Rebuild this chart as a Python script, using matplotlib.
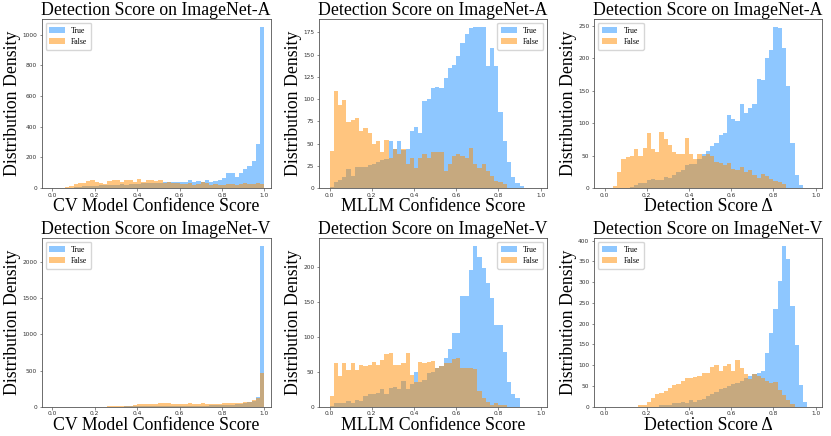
import numpy as np
import matplotlib
matplotlib.use("Agg")
import matplotlib.pyplot as plt

# ---------------- data (50 bins of width 0.02 on [0, 1]) ----------------
bin_edges = np.linspace(0.0, 1.0, 51)

titles = ["Detection Score on ImageNet-A", "Detection Score on ImageNet-A", "Detection Score on ImageNet-A",
          "Detection Score on ImageNet-V", "Detection Score on ImageNet-V", "Detection Score on ImageNet-V"]
xlabels = ["CV Model Confidence Score", "MLLM Confidence Score", "Detection Score \u0394",
           "CV Model Confidence Score", "MLLM Confidence Score", "Detection Score \u0394"]
legend_locs = ["upper left", "upper right", "upper left", "upper left", "upper right", "upper left"]
series_names = ["True", "False"]

# ImageNet-A, CV model confidence
a_cv_true = [0, 0, 1, 2, 3, 5, 8, 10, 12, 15,
             15, 18, 20, 20, 22, 22, 25, 22, 25, 28,
             28, 30, 30, 32, 35, 35, 38, 38, 38, 40,
             38, 38, 52, 38, 45, 40, 55, 42, 48, 55,
             62, 98, 98, 75, 100, 125, 145, 178, 290, 1050]
a_cv_false = [0, 0, 0, 8, 12, 25, 30, 30, 45, 50,
              40, 30, 28, 45, 52, 50, 38, 55, 50, 42,
              58, 40, 52, 50, 45, 52, 35, 40, 30, 35,
              28, 25, 30, 20, 28, 38, 32, 20, 25, 22,
              20, 25, 28, 22, 25, 30, 25, 28, 30, 28]

# ImageNet-A, MLLM confidence
a_mllm_true = [1, 7, 9, 12, 21, 14, 24, 24, 24, 26,
               27, 29, 32, 33, 53, 44, 53, 43, 44, 64,
               69, 62, 98, 100, 112, 114, 113, 124, 135, 138,
               149, 163, 173, 180, 181, 181, 181, 137, 157, 137,
               85, 53, 29, 12, 6, 2, 0, 0, 0, 0]
a_mllm_false = [42, 109, 93, 99, 74, 76, 79, 64, 68, 62,
                49, 53, 40, 54, 34, 44, 38, 44, 27, 34,
                23, 34, 38, 34, 40, 40, 40, 19, 27, 36,
                38, 36, 34, 45, 27, 23, 27, 19, 14, 8,
                7, 4, 0, 0, 0, 0, 0, 0, 0, 0]

# ImageNet-A, detection score delta
a_delta_true = [0, 0, 0, 0, 0, 0, 2, 5, 8, 8,
                12, 14, 13, 12, 17, 15, 20, 25, 28, 35,
                37, 37, 45, 52, 57, 64, 70, 82, 85, 113,
                106, 103, 130, 116, 124, 130, 168, 166, 200, 212,
                248, 246, 215, 157, 69, 20, 4, 0, 0, 0]
a_delta_false = [0, 0, 3, 25, 45, 48, 50, 60, 50, 62,
                 84, 60, 56, 86, 76, 67, 56, 52, 53, 77,
                 53, 45, 53, 50, 52, 50, 40, 38, 35, 38,
                 30, 28, 33, 25, 28, 20, 15, 22, 19, 14,
                 11, 10, 6, 0, 0, 0, 0, 0, 0, 0]

# ImageNet-V, CV model confidence
v_cv_true = [0, 0, 0, 0, 0, 0, 0, 0, 0, 0,
             0, 0, 0, 1, 1, 2, 2, 3, 3, 4,
             5, 5, 6, 6, 7, 8, 8, 9, 10, 10,
             11, 12, 12, 13, 14, 15, 16, 18, 20, 22,
             25, 28, 30, 35, 40, 50, 60, 83, 133, 2220]
v_cv_false = [0, 0, 0, 0, 0, 0, 0, 0, 0, 0,
              0, 0, 0, 3, 6, 10, 12, 14, 15, 18,
              35, 38, 35, 40, 42, 48, 45, 45, 40, 42,
              38, 40, 45, 40, 38, 50, 42, 40, 38, 42,
              45, 48, 45, 50, 48, 60, 70, 95, 120, 460]

# ImageNet-V, MLLM confidence
v_mllm_true = [1, 5, 6, 6, 8, 5, 10, 8, 15, 18,
               18, 20, 25, 18, 27, 28, 25, 37, 25, 32,
               50, 35, 38, 48, 50, 55, 58, 70, 82, 105,
               105, 158, 158, 196, 230, 215, 199, 177, 155, 117,
               117, 79, 36, 18, 12, 0, 0, 0, 0, 0]
v_mllm_false = [15, 62, 44, 62, 53, 62, 53, 60, 58, 60,
                64, 60, 67, 75, 77, 60, 60, 63, 77, 46,
                36, 64, 63, 64, 65, 55, 58, 62, 63, 68,
                70, 56, 55, 55, 54, 22, 12, 7, 2, 5,
                2, 2, 0, 0, 0, 0, 0, 0, 0, 0]

# ImageNet-V, detection score delta
v_delta_true = [0, 0, 0, 0, 0, 0, 0, 0, 0, 0,
                0, 0, 0, 3, 5, 5, 8, 10, 12, 10,
                15, 12, 15, 18, 25, 30, 35, 42, 45, 50,
                55, 58, 62, 70, 75, 78, 80, 85, 129, 177,
                235, 302, 387, 355, 242, 149, 52, 12, 0, 0]
v_delta_false = [0, 0, 0, 0, 0, 0, 0, 0, 3, 5,
                 12, 20, 30, 33, 37, 45, 52, 55, 62, 68,
                 70, 72, 74, 82, 80, 95, 100, 85, 98, 103,
                 85, 112, 93, 78, 66, 78, 75, 68, 62, 56,
                 60, 40, 28, 15, 6, 0, 0, 0, 0, 0]

panel_true = [a_cv_true, a_mllm_true, a_delta_true, v_cv_true, v_mllm_true, v_delta_true]
panel_false = [a_cv_false, a_mllm_false, a_delta_false, v_cv_false, v_mllm_false, v_delta_false]

# ---------------- drawing ----------------
W, H = 831, 436
fig = plt.figure(figsize=(W / 100, H / 100), dpi=100)

col_left = [41.7, 319.0, 594.0]
col_w = [229.0, 228.0, 228.0]
row_top = [19.0, 238.0]
row_h = [169.0, 168.7]

serif = ["Liberation Serif", "DejaVu Serif"]
big = 12.8
bin_centers = (bin_edges[:-1] + bin_edges[1:]) / 2

for k in range(6):
    r, c = divmod(k, 3)
    left = col_left[c] / W
    bottom = 1 - (row_top[r] + row_h[r]) / H
    ax = fig.add_axes([left, bottom, col_w[c] / W, row_h[r] / H])
    ax.hist(bin_centers, bins=bin_edges, weights=panel_true[k], histtype="stepfilled",
            color="dodgerblue", alpha=0.5, label=series_names[0], linewidth=0)
    ax.hist(bin_centers, bins=bin_edges, weights=panel_false[k], histtype="stepfilled",
            color="darkorange", alpha=0.5, label=series_names[1], linewidth=0)
    ax.set_xlim(-0.05, 1.03)
    ax.set_xticks([0.0, 0.2, 0.4, 0.6, 0.8, 1.0])
    ax.tick_params(labelsize=4.2, length=1.8, width=0.4, pad=1.5, colors="#333333")
    for s in ax.spines.values():
        s.set_linewidth(0.6)
        s.set_color("#555555")
    ax.set_title(titles[k], fontsize=big, family=serif, pad=1.5)
    ax.set_xlabel(xlabels[k], fontsize=big, family=serif, labelpad=0.5)
    ax.set_ylabel("Distribution Density", fontsize=big, family=serif, labelpad=1)
    ax.legend(loc=legend_locs[k], prop={"family": serif, "size": 5.6},
              handlelength=2.0, borderpad=0.5, labelspacing=0.4, framealpha=0.8)

fig.savefig("out.png", dpi=100)
